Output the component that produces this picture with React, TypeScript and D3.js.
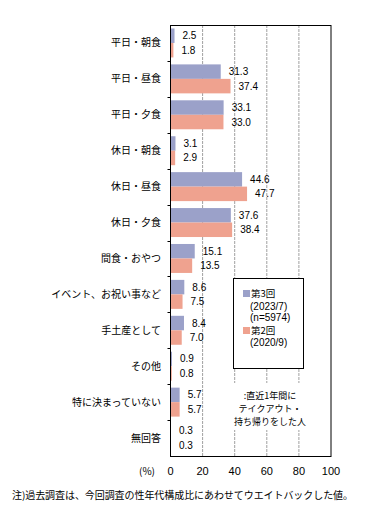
import React from "react";
import * as d3 from "d3";

const categories = [
  "平日・朝食",
  "平日・昼食",
  "平日・夕食",
  "休日・朝食",
  "休日・昼食",
  "休日・夕食",
  "間食・おやつ",
  "イベント、お祝い事など",
  "手土産として",
  "その他",
  "特に決まっていない",
  "無回答",
];
const series3 = [2.5, 31.3, 33.1, 3.1, 44.6, 37.6, 15.1, 8.6, 8.4, 0.9, 5.7, 0.3];
const series2 = [1.8, 37.4, 33.0, 2.9, 47.7, 38.4, 13.5, 7.5, 7.0, 0.8, 5.7, 0.3];
const seriesKeys = ["s3", "s2"];
const xTicks = [0, 20, 40, 60, 80, 100];
const noteLines = [":直近1年間に", "テイクアウト・", "持ち帰りをした人"];

const COLORS: Record<string, string> = { s3: "#9BA1C9", s2: "#EFA28F" };
const FONT = "'Noto Sans CJK JP', 'Noto Sans', sans-serif";
const NUMFONT = "'Liberation Sans', Arial, sans-serif";

export default function App() {
  const W = 377;
  const H = 521;
  const left = 170.5;
  const right = 331;
  const top = 25;
  const bottom = 456;

  const x = d3.scaleLinear().domain([0, 100]).range([left, right]);
  const y = d3.scaleBand<string>().domain(categories).range([top, bottom]);
  const inner = d3
    .scaleBand<string>()
    .domain(seriesKeys)
    .range([0, y.bandwidth()])
    .paddingOuter(0.24);

  const data = categories.map((c, i) => ({ c, s3: series3[i], s2: series2[i] }));

  return (
    <svg
      width={W}
      height={H}
      style={{ position: "absolute", left: 0, top: 0, background: "#fff" }}
    >
      {/* gridlines */}
      {xTicks.slice(1, -1).map((t) => (
        <line
          key={"g" + t}
          x1={x(t)}
          x2={x(t)}
          y1={top}
          y2={bottom}
          stroke="#A0A0A0"
          strokeWidth={1}
          strokeDasharray="3,1"
        />
      ))}
      {/* bars */}
      {data.map((d) =>
        seriesKeys.map((k) => {
          const v = (d as any)[k] as number;
          const yy = (y(d.c) as number) + (inner(k) as number);
          return (
            <g key={d.c + k}>
              <rect
                x={x(0)}
                y={yy}
                width={x(v) - x(0)}
                height={inner.bandwidth()}
                fill={COLORS[k]}
              />
              <text
                x={x(v) + 8}
                y={yy + inner.bandwidth() / 2}
                dy="0.35em"
                fontSize={10}
                fontFamily={NUMFONT}
                fill="#000"
              >
                {v.toFixed(1)}
              </text>
            </g>
          );
        })
      )}
      {/* legend box */}
      <rect x={233.5} y={278.5} width={70} height={90} fill="#fff" stroke="#000" strokeWidth={1} />
      <rect x={243} y={290} width={7} height={7} fill={COLORS.s3} />
      <text x={251} y={297} fontSize={9.5} fontFamily={FONT}>第3回</text>
      <text x={250} y={309.5} fontSize={10} fontFamily={NUMFONT}>(2023/7)</text>
      <text x={250} y={321} fontSize={10} fontFamily={NUMFONT}>(n=5974)</text>
      <rect x={243} y={327} width={7} height={7} fill={COLORS.s2} />
      <text x={251} y={334} fontSize={9.5} fontFamily={FONT}>第2回</text>
      <text x={250} y={346} fontSize={10} fontFamily={NUMFONT}>(2020/9)</text>
      {/* note under legend */}
      <rect x={226} y={383} width={92} height={47} fill="#fff" />
      {noteLines.map((s, i) => (
        <text
          key={s}
          x={270}
          y={398.5 + i * 13.3}
          fontSize={9}
          fontFamily={FONT}
          textAnchor="middle"
        >
          {s}
        </text>
      ))}
      {/* frame */}
      <rect
        x={left}
        y={top + 0.5}
        width={right - left}
        height={bottom - top}
        fill="none"
        stroke="#000"
        strokeWidth={1}
      />
      {/* left axis ticks at band boundaries */}
      {categories.slice(1).map((c) => (
        <line
          key={"t" + c}
          x1={left - 3}
          x2={left}
          y1={Math.round(y(c) as number) + 0.5}
          y2={Math.round(y(c) as number) + 0.5}
          stroke="#000"
        />
      ))}
      {/* category labels */}
      {categories.map((c) => (
        <text
          key={"l" + c}
          x={161}
          y={(y(c) as number) + y.bandwidth() / 2}
          dy="0.35em"
          textAnchor="end"
          fontSize={10}
          fontFamily={FONT}
        >
          {c}
        </text>
      ))}
      {/* x tick labels */}
      {xTicks.map((t) => (
        <text
          key={"x" + t}
          x={x(t)}
          y={475}
          textAnchor="middle"
          fontSize={11}
          fontFamily={NUMFONT}
        >
          {t}
        </text>
      ))}
      <text x={147} y={475} textAnchor="middle" fontSize={10} fontFamily={FONT}>(%)</text>
      <text x={12} y={499} fontSize={10} fontFamily={FONT} textLength={341} lengthAdjust="spacing">
        注)過去調査は、今回調査の性年代構成比にあわせてウエイトバックした値。
      </text>
    </svg>
  );
}
